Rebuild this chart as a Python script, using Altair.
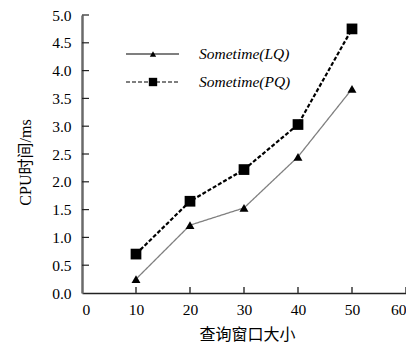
import altair as alt
import pandas as pd

window_sizes = [10, 20, 30, 40, 50]
lq_values = [0.25, 1.22, 1.53, 2.45, 3.67]
pq_values = [0.70, 1.65, 2.22, 3.03, 4.75]
series_names = ["Sometime(LQ)", "Sometime(PQ)"]
x_ticks = [0, 10, 20, 30, 40, 50, 60]
y_ticks = [0.0, 0.5, 1.0, 1.5, 2.0, 2.5, 3.0, 3.5, 4.0, 4.5, 5.0]

FONT = "'Liberation Serif', 'Times New Roman', 'Noto Sans CJK SC', serif"

rows = []
for s, vals in zip(series_names, [lq_values, pq_values]):
    for x, v in zip(window_sizes, vals):
        rows.append({"size": x, "time": v, "series": s})
df = pd.DataFrame(rows)

W, H = 324, 278
xscale = alt.Scale(domain=[0, 60], nice=False)
yscale = alt.Scale(domain=[0, 5], nice=False)

x_axis = alt.Axis(title="查询窗口大小", values=x_ticks, format="d", ticks=False,
                  labelPadding=9, grid=False, titleX=165, titleY=41, labelOverlap=False,
                  titleBaseline="middle", titleAlign="center", titleFontSize=16,
                  domainColor="#222222", domainWidth=1.5)
y_axis = alt.Axis(title="CPU时间/ms", values=y_ticks, format=".1f", ticks=False,
                  labelPadding=11, grid=False, titleX=-57, titleY=147, labelOverlap=False,
                  titleBaseline="middle", titleAlign="center", titleFontSize=16,
                  domainColor="#6a6a6a", domainWidth=2.5)

styles = {
    "Sometime(LQ)": dict(color="#808080", width=1.3, dash=[1, 0], shape="triangle-up", size=80),
    "Sometime(PQ)": dict(color="#000000", width=2.2, dash=[4, 2], shape="square", size=115),
}

def enc(chart, xf, yf):
    return chart.encode(
        x=alt.X(xf, scale=xscale, axis=x_axis),
        y=alt.Y(yf, scale=yscale, axis=y_axis),
    )

layers = []
for s in series_names:
    st = styles[s]
    sub = enc(alt.Chart(df).transform_filter(alt.datum.series == s), "size:Q", "time:Q")
    layers.append(sub.mark_line(color=st["color"], strokeWidth=st["width"], strokeDash=st["dash"]))

# inward ticks on both axes
xt_df = pd.DataFrame({"t": x_ticks[1:]})
layers.append(alt.Chart(xt_df).mark_rule(color="#444444", strokeWidth=1.6).encode(
    x=alt.X("t:Q", scale=xscale, axis=x_axis), y=alt.value(H - 6), y2=alt.value(H)))
yt_df = pd.DataFrame({"t": y_ticks[1:]})
layers.append(alt.Chart(yt_df).mark_rule(color="#222222", strokeWidth=1.2).encode(
    y=alt.Y("t:Q", scale=yscale, axis=y_axis), x=alt.value(0), x2=alt.value(7)))

for s in series_names:
    st = styles[s]
    sub = enc(alt.Chart(df).transform_filter(alt.datum.series == s), "size:Q", "time:Q")
    layers.append(sub.mark_point(shape=st["shape"], filled=True, color="#000000",
                                 size=st["size"], opacity=1))

# legend
leg_y = [39, 67]
for s, ly in zip(series_names, leg_y):
    st = styles[s]
    ldf = pd.DataFrame({"series": [s]})
    lc = alt.Chart(ldf)
    layers.append(lc.mark_rule(color="#000000", strokeWidth=1.2, strokeDash=st["dash"]).encode(
        x=alt.value(44), x2=alt.value(97), y=alt.value(ly)))
    layers.append(lc.mark_point(shape=st["shape"], filled=True, color="#000000",
                                size=40 if s == series_names[0] else 70, opacity=1).encode(
        x=alt.value(71), y=alt.value(ly)))
    layers.append(lc.mark_text(align="left", baseline="middle", font=FONT, fontSize=15.5,
                               fontStyle="italic", color="#000000").encode(
        x=alt.value(117), y=alt.value(ly), text="series:N"))

chart = alt.layer(*layers).properties(
    width=W, height=H,
    autosize=alt.AutoSizeParams(type="none"),
    padding={"left": 74, "top": 7, "right": 0, "bottom": 50},
).configure_view(stroke=None).configure_axis(
    labelFont=FONT, titleFont=FONT, labelFontSize=15.5, titleFontWeight="normal",
    labelColor="#000000", titleColor="#000000",
)

chart.save("out.html", embed_options={"renderer": "svg", "actions": False})
